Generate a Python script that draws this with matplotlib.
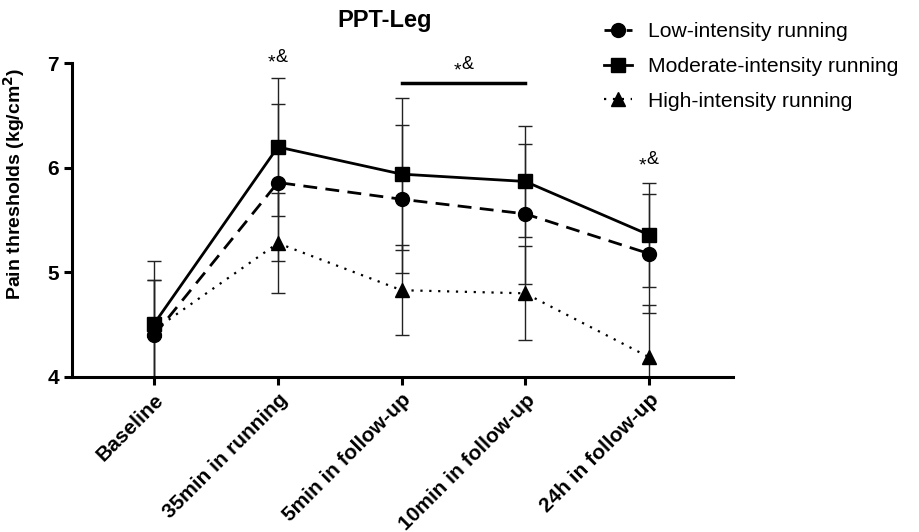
import matplotlib
matplotlib.use("Agg")
import matplotlib.pyplot as plt
from matplotlib.lines import Line2D
import numpy as np

plt.rcParams['font.family'] = ['Liberation Sans', 'DejaVu Sans']

categories = ["Baseline", "35min in running", "5min in follow-up", "10min in follow-up", "24h in follow-up"]
low_mean = [4.40, 5.86, 5.70, 5.56, 5.18]
low_sd = [0.53, 0.75, 0.71, 0.67, 0.57]
mod_mean = [4.51, 6.20, 5.94, 5.87, 5.36]
mod_sd = [0.60, 0.66, 0.73, 0.53, 0.50]
high_mean = [4.45, 5.28, 4.83, 4.80, 4.19]
high_sd = [0.48, 0.48, 0.43, 0.45, 0.50]

fig = plt.figure(figsize=(9.19, 5.32), dpi=100)
ax = fig.add_axes([0.0783, 0.2914, 0.7193, 0.5896])
x = np.arange(len(categories))

low_ls = (0, (5, 3))
high_ls = (0, (1, 3))
ebkw = dict(ecolor='#222222', elinewidth=1.0, capsize=4.7, capthick=1.0, color='black')
ax.errorbar(x, high_mean, yerr=high_sd, fmt='^', ls=high_ls, lw=1.6, ms=10, **ebkw)
ax.errorbar(x, low_mean, yerr=low_sd, fmt='o', ls=low_ls, lw=2.0, ms=10, **ebkw)
ax.errorbar(x, mod_mean, yerr=mod_sd, fmt='s', ls='-', lw=2.0, ms=10, **ebkw)

ax.set_ylim(4, 7)
ax.set_xlim(-0.665, 4.68)
ax.set_yticks([4, 5, 6, 7])
ax.set_xticks(x)
ax.set_xticklabels(categories, rotation=45, ha='right', rotation_mode='anchor',
                   fontsize=15, fontweight='bold')
for lab in ax.get_yticklabels():
    lab.set_fontweight('bold')
    lab.set_fontsize(15)
ax.set_ylabel('Pain thresholds (kg/cm$^\\mathbf{2}$)', fontsize=14, fontweight='bold')
ax.yaxis.set_label_coords(-0.068, 0.615)
ax.spines['top'].set_visible(False)
ax.spines['right'].set_visible(False)
for s in ['left', 'bottom']:
    ax.spines[s].set_linewidth(2.2)
ax.tick_params(width=2.2, length=6)

# significance annotations
def sig(xc, y):
    ax.text(xc - 0.02, y - 0.03, '*', ha='right', va='center', fontsize=14, clip_on=False)
    ax.text(xc - 0.02, y + 0.03, '&', ha='left', va='center', fontsize=13, clip_on=False)

sig(1, 7.03)
sig(4, 6.05)
ax.plot([2, 3], [6.81, 6.81], color='black', lw=2.5, clip_on=False)
sig(2.5, 6.96)

fig.text(0.418, 0.962, 'PPT-Leg', ha='center', va='center', fontsize=17, fontweight='bold')

handles = [
    Line2D([], [], color='black', ls=low_ls, lw=2.0, marker='o', ms=10),
    Line2D([], [], color='black', ls='-', lw=2.0, marker='s', ms=10),
    Line2D([], [], color='black', ls=high_ls, lw=1.6, marker='^', ms=10),
]
labels = ['Low-intensity running', 'Moderate-intensity running', 'High-intensity running']
leg = fig.legend(handles, labels,
                 loc='upper left', bbox_to_anchor=(0.637, 0.994), frameon=False,
                 fontsize=15.2, handlelength=1.3, handletextpad=0.75, labelspacing=0.75)

fig.savefig('out.png', dpi=100)
